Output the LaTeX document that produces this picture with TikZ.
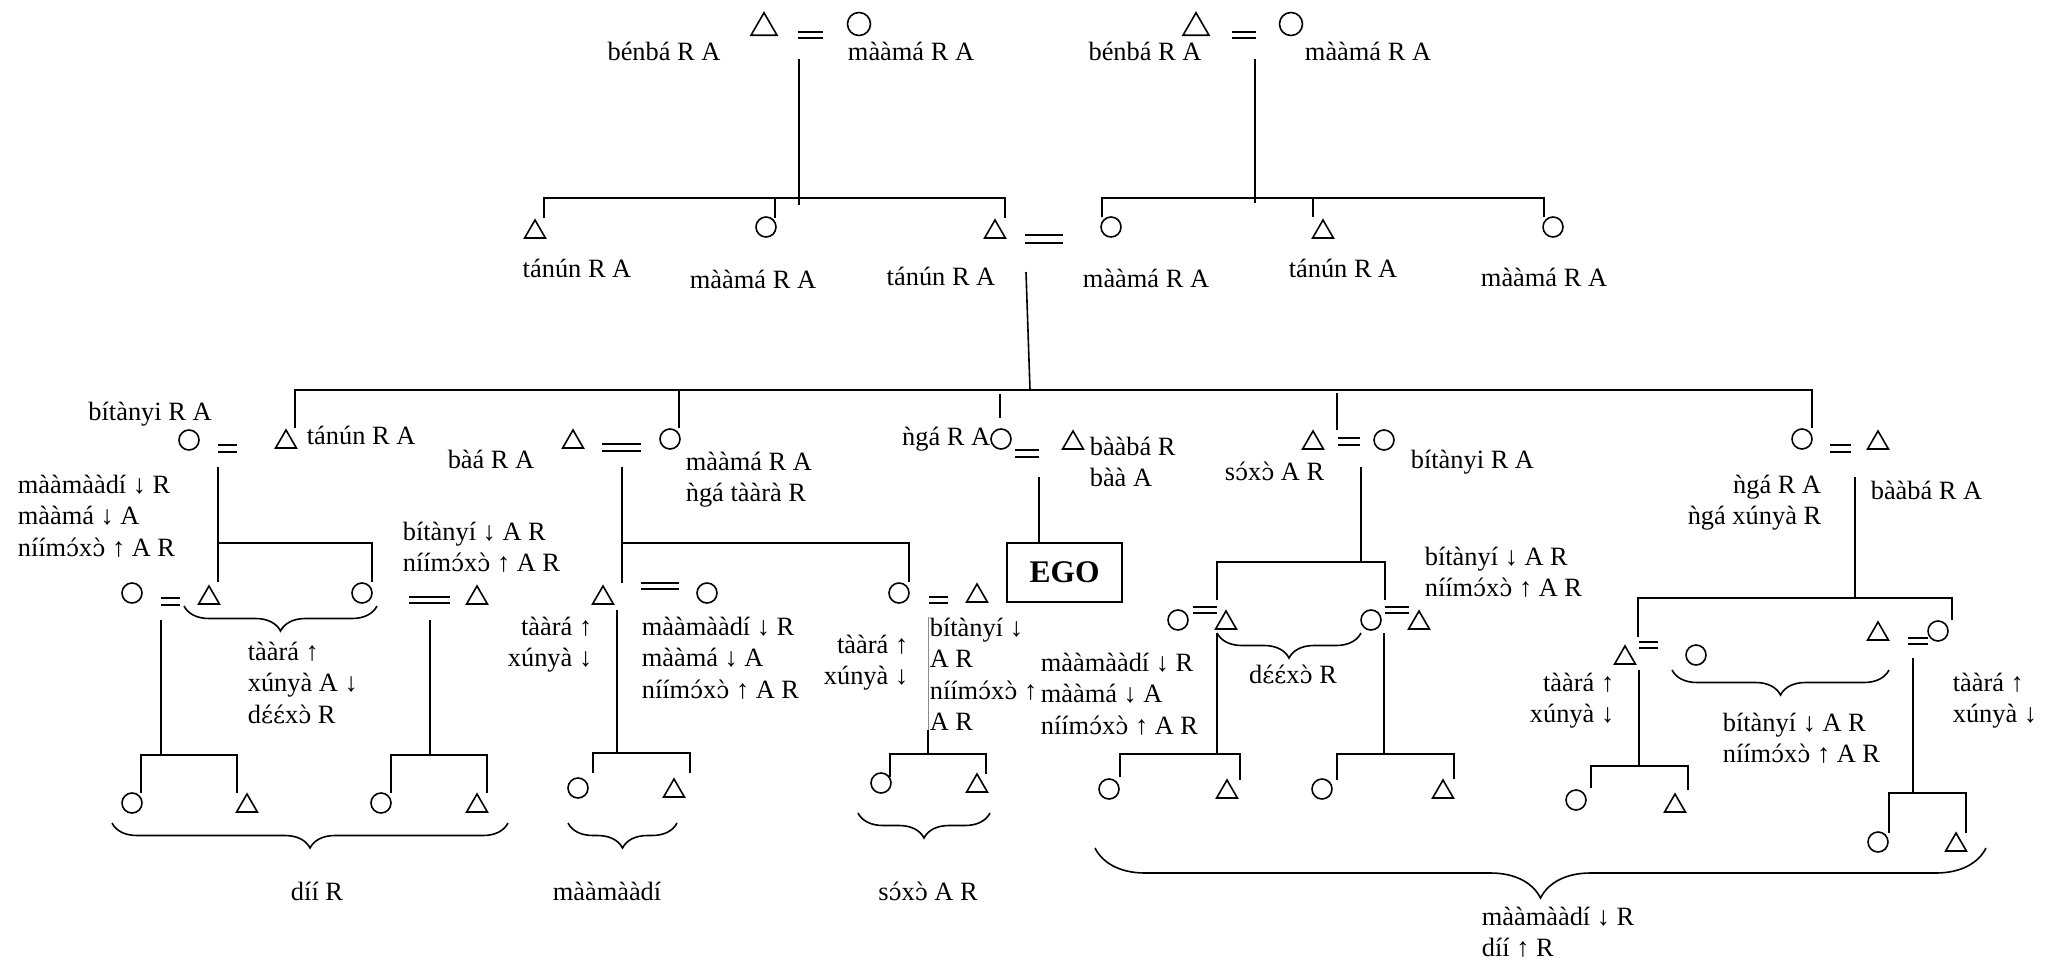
\documentclass[tikz,border=0pt]{standalone}
\usepackage{fontspec}
\setmainfont{Liberation Serif}
\newfontfamily\ipafont[Scale=0.88]{DejaVu Serif}
\usetikzlibrary{shapes.geometric,decorations.pathreplacing}
\newcommand\kinfont{\fontsize{26.4}{31.5}\selectfont}
% open o and open e with tone marks
\newcommand\Ooac{{\ipafont ɔ́}}
\newcommand\Oogr{{\ipafont ɔ̀}}
\newcommand\Eeac{{\ipafont ɛ́}}
\newcommand\niimoxo{níím\Ooac x\Oogr}
\tikzset{
  male/.style={draw, regular polygon, regular polygon sides=3, minimum size=24pt, inner sep=0pt, yshift=-3pt},
  female/.style={draw, circle, minimum size=20pt, inner sep=0pt},
  bigmale/.style={male, minimum size=30pt, yshift=-0.75pt},
  bigfemale/.style={female, minimum size=23pt},
  lbl/.style={inner sep=0pt, font=\kinfont},
  wed/.style={line width=2.6pt},
  brace/.style={decorate, decoration={brace, mirror, amplitude=#1}},
  brace/.default=25pt
}
\begin{document}
\begin{tikzpicture}[x=1pt, y=-1pt, line width=1.6pt]
    \useasboundingbox (0,0) rectangle (2045,969);
    % first generation
    \node[bigmale] (gfa) at (764,24) {};
    \node[bigfemale] (gma) at (859,24) {};
    \node[bigmale] (gfb) at (1196,24) {};
    \node[bigfemale] (gmb) at (1291,24) {};
    \node[lbl, anchor=base] (gfalbl) at (664,60) {bénbá R A};
    \node[lbl, anchor=base] (gmalbl) at (911,60) {mààmá R A};
    \node[lbl, anchor=base] (gfblbl) at (1145,60) {bénbá R A};
    \node[lbl, anchor=base] (gmblbl) at (1368,60) {mààmá R A};
    \draw (799,59) -- (799,205);
    \draw (1255,59) -- (1255,203);
    % second generation
    \draw (544,218) -- (544,198) -- (1005,198) -- (1005,218);
    \draw (775,198) -- (775,218);
    \draw (1102,217) -- (1102,198) -- (1544,198) -- (1544,217);
    \draw (1313,198) -- (1313,217);
    \node[male] (ua) at (535,229) {};
    \node[female] (aa) at (766,227) {};
    \node[male] (fa) at (995,229) {};
    \node[female] (mo) at (1111,227) {};
    \node[male] (ub) at (1323,229) {};
    \node[female] (ab) at (1553,227) {};
    \node[lbl, anchor=base] (ualbl) at (577,277) {tánún R A};
    \node[lbl, anchor=base] (aalbl) at (753,288) {mààmá R A};
    \node[lbl, anchor=base] (falbl) at (941,285) {tánún R A};
    \node[lbl, anchor=base] (molbl) at (1146,287) {mààmá R A};
    \node[lbl, anchor=base] (ublbl) at (1343,277) {tánún R A};
    \node[lbl, anchor=base] (ablbl) at (1544,286) {mààmá R A};
    \draw (1026,272) -- (1030,390);
    % third generation
    \draw (295,428) -- (295,390) -- (1812,390) -- (1812,428);
    \draw (679,390) -- (679,428);
    \draw (1000,394) -- (1000,418);
    \draw (1337,393) -- (1337,430);
    \node[female] (wa) at (189,440) {};
    \node[male] (ha) at (286,439) {};
    \node[male] (hb) at (573,439) {};
    \node[female] (wb) at (670,439) {};
    \node[female] (egom) at (1001,439) {};
    \node[male] (egof) at (1073,440) {};
    \node[male] (hc) at (1313,440) {};
    \node[female] (wc) at (1384,440) {};
    \node[female] (wd) at (1802,439) {};
    \node[male] (hd) at (1878,440) {};
    \node[lbl, anchor=base] (walbl) at (150,420) {bítànyi R A};
    \node[lbl, anchor=base west] (halbl) at (306,444) {tánún R A};
    \node[lbl, anchor=base] (hblbl) at (491,468) {bàá R A};
    \node[lbl, anchor=base west, align=left] (wblbl) at (685,501.5) {mààmá R A\\ǹgá tààrà R};
    \node[lbl, anchor=base east] (egomlbl) at (991,445) {ǹgá R A};
    \node[lbl, anchor=base west, align=left] (egoflbl) at (1089,486.5) {bààbá R\\bàà A};
    \node[lbl, anchor=base east] (hclbl) at (1325,480) {s\Ooac x\Oogr{} A R};
    \node[lbl, anchor=base west] (wclbl) at (1410,468) {bítànyi R A};
    \node[lbl, anchor=base east, align=right] (wdlbl) at (1822,524.5) {ǹgá R A\\ǹgá xúnyà R};
    \node[lbl, anchor=base west] (hdlbl) at (1870,499) {bààbá R A};
    % fourth generation, left
    \draw (218,467) -- (218,582);
    \draw (218,543) -- (372,543) -- (372,582);
    \node[female] (ka) at (132,593) {};
    \node[male] (kb) at (209,595) {};
    \node[female] (kc) at (362,593) {};
    \node[male] (kd) at (477,595) {};
    \node[lbl, anchor=base west, align=left] (kalbl) at (17,556) {mààmààdí ↓ R\\mààmá ↓ A\\\niimoxo{} ↑ A R};
    \node[lbl, anchor=base west, align=left] (kdlbl) at (402,571.5) {bítànyí ↓ A R\\\niimoxo{} ↑ A R};
    \draw[brace] (184,606) -- (377,606);
    \node[lbl, anchor=base west, align=left] (kblbl) at (247,723) {tààrá ↑\\xúnyà A ↓\\d\Eeac\Eeac x\Oogr{} R};
    % fourth generation, middle
    \draw (622,467) -- (622,583);
    \draw (622,543) -- (909,543) -- (909,582);
    \draw (1039,477) -- (1039,543);
    \node[male] (ke) at (603,595) {};
    \node[female] (kf) at (707,593) {};
    \node[female] (kg) at (899,593) {};
    \node[male] (kh) at (977,593) {};
    \node[draw, inner sep=0pt, minimum width=115pt, minimum height=59pt, font=\fontsize{31.5}{36}\selectfont\bfseries] (ego) at (1064.5,572.5) {EGO};
    \node[lbl, anchor=base east, align=right] (kelbl) at (593,666.5) {tààrá ↑\\xúnyà ↓};
    \node[lbl, anchor=base west, align=left] (kflbl) at (641,698) {mààmààdí ↓ R\\mààmá ↓ A\\\niimoxo{} ↑ A R};
    \node[lbl, anchor=base east, align=right] (kglbl) at (909,684.5) {tààrá ↑\\xúnyà ↓};
    \node[lbl, anchor=base west, align=left] (khlbl) at (929,730.5) {bítànyí ↓\\A R\\\niimoxo{} ↑\\A R};
    % fourth generation, right
    \draw (1361,467) -- (1361,562);
    \draw (1217,600) -- (1217,562) -- (1385,562) -- (1385,600);
    \node[female] (ki) at (1178,620) {};
    \node[male] (kj) at (1226,620) {};
    \node[female] (kk) at (1371,620) {};
    \node[male] (kl) at (1419,620) {};
    \draw[brace] (1217,633) -- (1361,633);
    \node[lbl, anchor=base] (kjlbl) at (1293,683) {d\Eeac\Eeac x\Oogr{} R};
    \node[lbl, anchor=base west, align=left] (kklbl) at (1424,596.5) {bítànyí ↓ A R\\\niimoxo{} ↑ A R};
    \node[lbl, anchor=base west, align=left] (kilbl) at (1040,734) {mààmààdí ↓ R\\mààmá ↓ A\\\niimoxo{} ↑ A R};
    \draw (1855,477) -- (1855,598);
    \draw (1638,637) -- (1638,598) -- (1952,598) -- (1952,620);
    \node[male] (km) at (1625,655) {};
    \node[female] (kn) at (1696,655) {};
    \node[male] (ko) at (1878,631) {};
    \node[female] (kp) at (1938,631) {};
    \draw[brace] (1672,670) -- (1889,670);
    \node[lbl, anchor=base east, align=right] (kmlbl) at (1615,722.5) {tààrá ↑\\xúnyà ↓};
    \node[lbl, anchor=base west, align=left] (knlbl) at (1722,762.5) {bítànyí ↓ A R\\\niimoxo{} ↑ A R};
    \node[lbl, anchor=base west, align=left] (kplbl) at (1952,722.5) {tààrá ↑\\xúnyà ↓};
    % marriage signs
    \foreach \xa/\xb/\ya/\yb in {798/823/32/38, 1232/1256/32/38, 1025/1063/235/243,
        218/237/445/452, 602/641/444/451, 1015/1039/450/457, 1338/1360/438/445, 1830/1851/445/452,
        161/180/598/605, 409/450/597/603, 641/679/583/589, 929/948/597/603,
        1193/1217/607/613, 1385/1409/607/613, 1639/1658/642/648, 1908/1928/638/644}{%
      \draw[wed] (\xa,\ya) -- (\xb,\ya) (\xa,\yb) -- (\xb,\yb);}
    % fifth generation
    \draw (161,620) -- (161,755);
    \draw (141,793) -- (141,755) -- (237,755) -- (237,793);
    \draw (430,620) -- (430,755);
    \draw (391,793) -- (391,755) -- (487,755) -- (487,793);
    \draw (617,610) -- (617,753);
    \draw (593,773) -- (593,753) -- (690,753) -- (690,773);
    \draw[black!45, line width=1pt] (928,617) -- (928,730);
    \draw (928,730) -- (928,754);
    \draw (890,777) -- (890,754) -- (986,754) -- (986,774);
    \draw (1217,633) -- (1217,754);
    \draw (1120,777) -- (1120,754) -- (1240,754) -- (1240,780);
    \draw (1384,633) -- (1384,754);
    \draw (1337,780) -- (1337,754) -- (1454,754) -- (1454,779);
    \draw (1639,670) -- (1639,766);
    \draw (1591,788) -- (1591,766) -- (1688,766) -- (1688,790);
    \draw (1913,658) -- (1913,793);
    \draw (1889,833) -- (1889,793) -- (1966,793) -- (1966,833);
    \node[female] (ga) at (132,803) {};
    \node[male] (gb) at (247,803) {};
    \node[female] (gc) at (381,803) {};
    \node[male] (gd) at (477,803) {};
    \node[female] (ge) at (578,788) {};
    \node[male] (gf) at (674,788) {};
    \node[female] (gg) at (881,783) {};
    \node[male] (gh) at (977,783) {};
    \node[female] (gi) at (1109,789) {};
    \node[male] (gj) at (1227,789) {};
    \node[female] (gk) at (1322,789) {};
    \node[male] (gl) at (1443,789) {};
    \node[female] (gm) at (1576,800) {};
    \node[male] (gn) at (1675,803) {};
    \node[female] (go) at (1878,842) {};
    \node[male] (gp) at (1956,842) {};
    % braces and terms
    \draw[brace] (112,823) -- (508,823);
    \draw[brace] (568,823) -- (677,823);
    \draw[brace] (858,813) -- (990,813);
    \draw[brace=50pt] (1095,848) -- (1986,848);
    \node[lbl, anchor=base] (diilbl) at (317,900) {díí R};
    \node[lbl, anchor=base] (mmdlbl) at (607,900) {mààmààdí};
    \node[lbl, anchor=base] (soxlbl) at (928,900) {s\Ooac x\Oogr{} A R};
    \node[lbl, anchor=base west, align=left] (alllbl) at (1481,956.5) {mààmààdí ↓ R\\díí ↑ R};
\end{tikzpicture}
\end{document}
